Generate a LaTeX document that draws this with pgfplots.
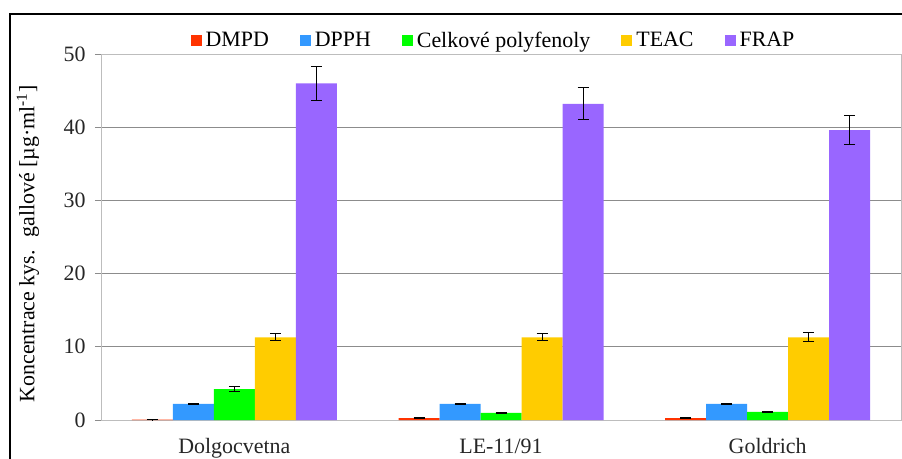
\documentclass[border=0pt]{standalone}
\usepackage{pgfplots}
\pgfplotsset{compat=1.18}
\usepackage{fontspec}
\setmainfont{Liberation Serif}
\definecolor{cDMPD}{HTML}{FF3300}
\definecolor{cDPPH}{HTML}{3399FF}
\definecolor{cCelk}{HTML}{00FF00}
\definecolor{cTEAC}{HTML}{FFCC00}
\definecolor{cFRAP}{HTML}{9966FF}
\definecolor{gridc}{HTML}{8C8C8C}
\definecolor{boxc}{HTML}{BDBDBD}
\begin{document}
\begin{tikzpicture}
\useasboundingbox (-101bp,-39bp) rectangle (801bp,420bp);
\clip (-101bp,-39bp) rectangle (801bp,420bp);
\draw[black, line width=2.8bp] (-91bp,-80bp) -- (-91bp,406bp) -- (850bp,406bp);
\begin{axis}[
  at={(0,0)}, anchor=south west,
  scale only axis, width=800bp, height=366bp,
  ybar=0pt, bar width=41bp,
  xmin=-0.5, xmax=2.5, ymin=0, ymax=50,
  ytick={0,10,20,30,40,50},
  xtick={0,1,2},
  xticklabels={Dolgocvetna, LE-11/91, Goldrich},
  major x tick style={draw=none},
  extra x ticks={-0.5,0.5,1.5,2.5},
  extra x tick labels={},
  extra x tick style={grid=none, major tick length=7bp, tick style={draw=gridc, line width=0.8bp}},
  tick align=outside,
  major tick length=6bp,
  ytick style={draw=gridc, line width=0.8bp},
  ymajorgrids, grid style={draw=gridc, line width=0.8bp},
  axis line style={draw=boxc, line width=0.8bp},
  /pgf/number format/assume math mode=true,
  tick label style={font=\fontsize{22}{26}\selectfont, text=black!85},
  yticklabel style={xshift=-6bp},
  xticklabel style={yshift=-9bp},
  ylabel={Koncentrace kys. \ gallové [µg·ml\textsuperscript{-1}]},
  ylabel style={at={(axis description cs:-0.0913,0.481)}, anchor=center, rotate=0, font=\fontsize{22}{26}\selectfont},
  legend columns=5,
  legend style={at={(axis description cs:0.4906,1.038)}, anchor=center, draw=none, fill=none,
    font=\fontsize{22}{26}\selectfont, column sep=0bp,
    /tikz/every even column/.append style={column sep=29bp}},
  legend image code/.code={\fill[#1] (0bp,-5.5bp) rectangle (11bp,5.5bp); \path (13bp,0bp);},
  error bars/y dir=both, error bars/y explicit,
  error bars/error mark options={rotate=90, mark size=5.5bp, line width=0.9bp, black},
  error bars/error bar style={line width=0.9bp, black},
]
\addplot[fill=cDMPD, draw=none] coordinates {(0,0.05) +- (0,0.03) (1,0.25) +- (0,0.05) (2,0.25) +- (0,0.05)};
\addplot[fill=cDPPH, draw=none] coordinates {(0,2.2) +- (0,0.06) (1,2.2) +- (0,0.06) (2,2.2) +- (0,0.06)};
\addplot[fill=cCelk, draw=none] coordinates {(0,4.23) +- (0,0.3) (1,0.97) +- (0,0.08) (2,1.1) +- (0,0.08)};
\addplot[fill=cTEAC, draw=none] coordinates {(0,11.3) +- (0,0.5) (1,11.3) +- (0,0.5) (2,11.3) +- (0,0.6)};
\addplot[fill=cFRAP, draw=none] coordinates {(0,46.0) +- (0,2.3) (1,43.2) +- (0,2.2) (2,39.6) +- (0,1.95)};
\legend{DMPD, DPPH, Celkové polyfenoly, TEAC, FRAP}
\end{axis}
\end{tikzpicture}
\end{document}
